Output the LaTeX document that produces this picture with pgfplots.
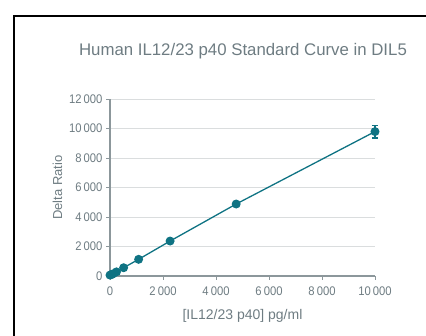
\documentclass[border=0pt]{standalone}
\usepackage{pgfplots}
\pgfplotsset{compat=1.18}
\usepackage{fontspec}
\setmainfont{Liberation Sans}
\newfontfamily\tickfont[FakeStretch=0.9]{Liberation Sans}
\definecolor{teal1}{HTML}{0F7383}
\definecolor{txtgrey}{HTML}{6E7C82}
\definecolor{axgrey}{HTML}{8C979B}
\definecolor{gridgrey}{HTML}{DADDDE}
\begin{document}
\begin{tikzpicture}
\clip (0pt,0pt) rectangle (426pt,336pt);
\path[use as bounding box] (0pt,0pt) rectangle (426pt,336pt);
\draw[black, line width=1.4pt] (14pt,-5pt) -- (14pt,320pt) -- (430pt,320pt);
\node[txtgrey, font=\fontsize{16.8}{19}\selectfont] at (243pt,285pt) {Human IL12/23 p40 Standard Curve in DIL5};
\begin{axis}[
  at={(110pt,60pt)}, anchor=south west,
  scale only axis, width=265pt, height=177pt,
  xmin=0, xmax=10000, ymin=0, ymax=12000,
  xtick={0,2000,4000,6000,8000,10000},
  ytick={0,2000,4000,6000,8000,10000,12000},
  axis x line*=bottom, axis y line*=left,
  axis line style={axgrey, line width=1.2pt, -},
  tick style={axgrey, line width=0.9pt},
  tick align=outside, major tick length=4pt,
  ymajorgrids, grid style={gridgrey, line width=0.8pt},
  /pgf/number format/assume math mode=true,
  /pgf/number format/1000 sep={\,},
  ticklabel style={font=\tickfont\fontsize{12.5}{14}\selectfont, text=txtgrey},
  xticklabel style={yshift=-3pt},
  xlabel={[IL12/23 p40] pg/ml}, ylabel={Delta Ratio},
  xlabel style={font=\fontsize{14}{16}\selectfont, text=txtgrey, yshift=-7pt},
  ylabel style={font=\fontsize{13}{15}\selectfont, text=txtgrey, yshift=0pt},
  scaled ticks=false,
  clip=false,
]
\addplot[teal1, line width=1.3pt, mark=*, mark size=3.8pt, mark options={fill=teal1, draw=teal1},
  error bars/.cd, y dir=both, y explicit, error bar style={teal1, line width=1.5pt},
  error mark options={rotate=90, mark size=3.2pt, line width=1.5pt}]
coordinates {
(0,60) +- (0,0)
(56,100) +- (0,0)
(117,150) +- (0,0)
(245,280) +- (0,0)
(514,560) +- (0,0)
(1080,1130) +- (0,0)
(2268,2370) +- (0,0)
(4762,4880) +- (0,0)
(10000,9790) +- (0,420)
};
\end{axis}
\end{tikzpicture}
\end{document}
